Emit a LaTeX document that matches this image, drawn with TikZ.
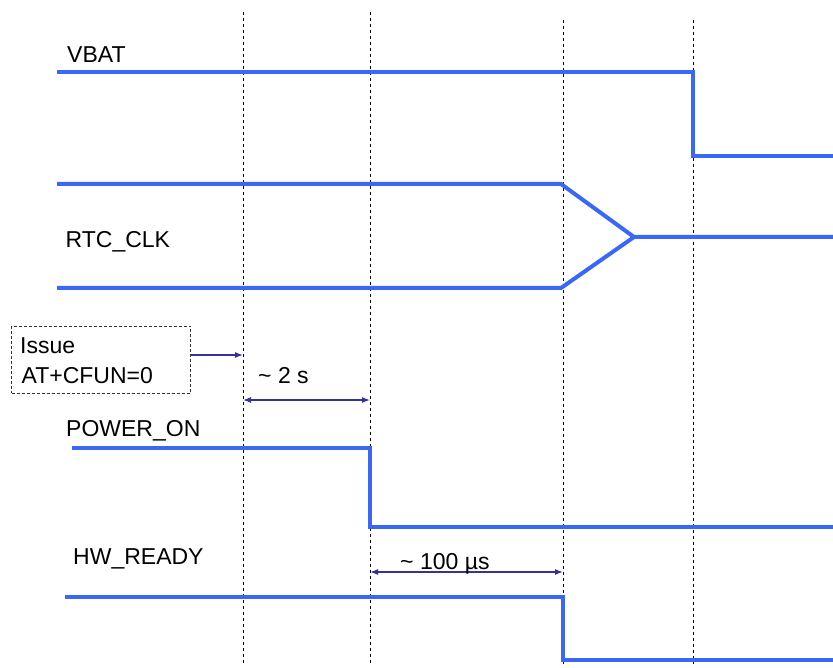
\documentclass[tikz,border=0pt]{standalone}
\usepackage{fontspec}
\setmainfont{Liberation Sans}
\usetikzlibrary{arrows.meta}
\definecolor{sig}{RGB}{56,104,245}
\definecolor{ann}{RGB}{51,51,153}
\tikzset{
  signal/.style={draw=sig,line width=4pt,line join=miter},
  marker/.style={draw=black,line width=0.7pt,dash pattern=on 3pt off 3pt},
  lbl/.style={anchor=base west,inner sep=0pt,font=\fontsize{23}{30}\selectfont},
  annarrow/.style={draw=ann,line width=1.2pt,-{Latex[length=8pt,width=6pt]}},
  dblarrow/.style={draw=ann,line width=1.2pt,{Latex[length=8pt,width=6pt]}-{Latex[length=8pt,width=6pt]}},
  cmdbox/.style={draw=black!80,line width=0.8pt,dash pattern=on 3pt off 2pt,minimum width=179pt,minimum height=67pt,inner sep=0pt}
}
\begin{document}
\begin{tikzpicture}[x=1pt,y=-1pt]
\useasboundingbox (0,0) rectangle (833,668);
% time markers
\coordinate (m1t) at (243,12); \coordinate (m1b) at (243,664);
\coordinate (m2t) at (370,12); \coordinate (m2b) at (370,664);
\coordinate (m3t) at (563,20); \coordinate (m3b) at (563,664);
\coordinate (m4t) at (693,20); \coordinate (m4b) at (693,664);
\draw[marker] (m1t) -- (m1b);
\draw[marker] (m2t) -- (m2b);
\draw[marker] (m3t) -- (m3b);
\draw[marker] (m4t) -- (m4b);
% labels
\node[lbl] (vbat) at (67,63) {VBAT};
\node[lbl] (rtc) at (65.5,248) {RTC\_CLK};
\node[lbl] (pwr) at (66,436) {POWER\_ON};
\node[lbl] (hwr) at (73,564) {HW\_READY};
% VBAT
\draw[signal] (57,72) -- (693,72) -- (693,156) -- (833,156);
% RTC_CLK
\draw[signal] (57,184) -- (561,184) -- (634,237) -- (833,237);
\draw[signal] (57,288) -- (561,288) -- (634,237);
% POWER_ON
\draw[signal] (72,448) -- (370,448) -- (370,527) -- (833,527);
% HW_READY
\draw[signal] (65,597) -- (563,597) -- (563,660) -- (833,660);
% command box
\node[cmdbox] (cmd) at (101,359.5) {};
\node[lbl] (cmdl1) at (20,354) {Issue};
\node[lbl] (cmdl2) at (21.5,384) {AT+CFUN=0};
\coordinate (cmdend) at (243,355);
\draw[annarrow] (cmd.east |- cmdend) -- (cmdend);
% 2 s
\coordinate (a1) at (243,400); \coordinate (a2) at (370,400);
\draw[dblarrow] (a1) -- (a2);
\node[lbl] (t2s) at (258,384) {\textasciitilde{} 2 s};
% 100 us
\coordinate (b1) at (370,572); \coordinate (b2) at (563,572);
\draw[dblarrow] (b1) -- (b2);
\node[lbl] (t100) at (400,569) {\textasciitilde{} 100 µs};
\end{tikzpicture}
\end{document}
